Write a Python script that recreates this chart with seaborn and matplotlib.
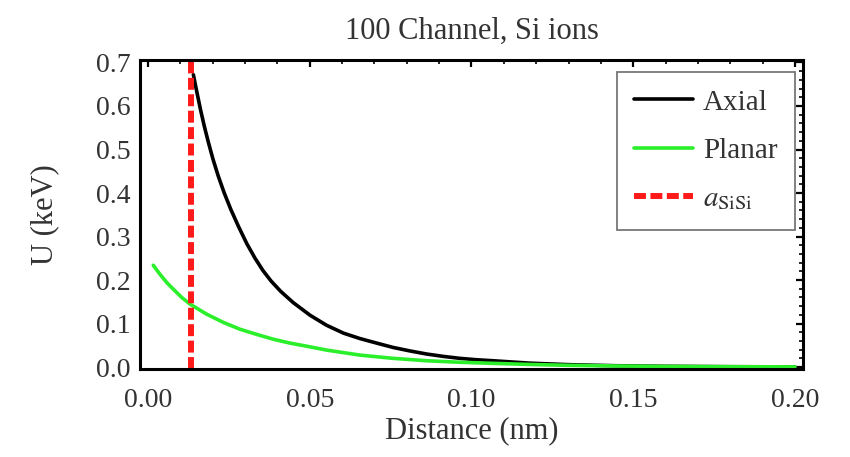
import pandas as pd
import matplotlib
matplotlib.use("Agg")
import matplotlib.pyplot as plt
import seaborn as sns
from matplotlib.ticker import MultipleLocator, FormatStrFormatter

# Datos (distancia en nm, U en keV)
axial_x = [0.0140, 0.0150, 0.0162, 0.0174, 0.0187, 0.0201, 0.0217, 0.0235, 0.0256, 0.0279,
           0.0305, 0.0330, 0.0355, 0.0380, 0.0410, 0.0449, 0.0501, 0.0552, 0.0604, 0.0655,
           0.0707, 0.0758, 0.0810, 0.0861, 0.0913, 0.0964, 0.1016, 0.1067, 0.118, 0.130,
           0.145, 0.160, 0.180, 0.200]
axial_u = [0.672, 0.635, 0.592, 0.553, 0.515, 0.477, 0.439, 0.401, 0.362, 0.324,
           0.284, 0.251, 0.222, 0.198, 0.174, 0.148, 0.119, 0.096, 0.078, 0.0655,
           0.055, 0.045, 0.037, 0.030, 0.0245, 0.020, 0.0168, 0.0145, 0.009, 0.0055,
           0.003, 0.0017, 0.0008, 0.0004]

planar_x = [0.0016, 0.0037, 0.0058, 0.0078, 0.0104, 0.0130, 0.0181, 0.0233, 0.0284, 0.0336,
            0.0387, 0.0439, 0.0490, 0.0552, 0.0655, 0.0758, 0.0861, 0.0964, 0.1067, 0.118,
            0.130, 0.145, 0.160, 0.180, 0.200]
planar_u = [0.234, 0.213, 0.194, 0.179, 0.160, 0.1445, 0.1216, 0.1025, 0.087, 0.075,
            0.064, 0.055, 0.048, 0.039, 0.0275, 0.020, 0.0145, 0.011, 0.0085, 0.006,
            0.004, 0.0025, 0.0015, 0.0008, 0.0004]

a_sisi = 0.0132

df_axial = pd.DataFrame({"dist": axial_x, "U": axial_u})
df_planar = pd.DataFrame({"dist": planar_x, "U": planar_u})

sns.set_style("white")
plt.rcParams["font.family"] = ["Liberation Serif", "DejaVu Serif"]
plt.rcParams["mathtext.fontset"] = "stix"

fig = plt.figure(figsize=(8.5, 4.57), dpi=100)
ax = fig.add_axes([0.1647, 0.193, 0.78, 0.676])

sns.lineplot(x="dist", y="U", data=df_axial, color="black", lw=2.6, label="Axial", ax=ax)
sns.lineplot(x="dist", y="U", data=df_planar, color="#2bef2b", lw=2.6, label="Planar", ax=ax)
ax.axvline(a_sisi, color="#ff1a1a", lw=4.3, ls=(0, (2.0, 0.75)), label=r"$a_{\rm SiSi}$")

ax.set_xlim(-0.0025, 0.2025)
ax.set_ylim(-0.004, 0.706)
ax.xaxis.set_major_locator(MultipleLocator(0.05))
ax.xaxis.set_minor_locator(MultipleLocator(0.01))
ax.yaxis.set_major_locator(MultipleLocator(0.1))
ax.yaxis.set_minor_locator(MultipleLocator(0.02))
ax.xaxis.set_major_formatter(FormatStrFormatter("%.2f"))
ax.yaxis.set_major_formatter(FormatStrFormatter("%.1f"))
ax.tick_params(which="both", direction="in", top=True, right=True, color="black")
ax.tick_params(which="major", length=5, width=1.6, labelsize=20, labelcolor="#333333")
ax.tick_params(which="minor", length=3, width=1.2)
ax.tick_params(axis="x", which="major", pad=14)
ax.tick_params(axis="y", which="major", pad=7)
for s in ax.spines.values():
    s.set_color("black")
    s.set_linewidth(2.2)

ax.set_title("100 Channel, Si ions", fontsize=22, color="#333333", pad=15)
ax.set_xlabel("Distance (nm)", fontsize=22, color="#333333", labelpad=2)
ax.set_ylabel("U (keV)", fontsize=22, color="#333333", labelpad=26)

leg = ax.legend(loc="upper right", bbox_to_anchor=(0.988, 0.962), borderaxespad=0,
                fontsize=21, handlelength=2.0, handletextpad=0.35, labelspacing=0.75,
                borderpad=0.6, frameon=True, fancybox=False, edgecolor="#555555")
leg.get_frame().set_linewidth(1.3)
for t in leg.get_texts():
    t.set_color("#333333")

fig.savefig("out.png", dpi=100)
